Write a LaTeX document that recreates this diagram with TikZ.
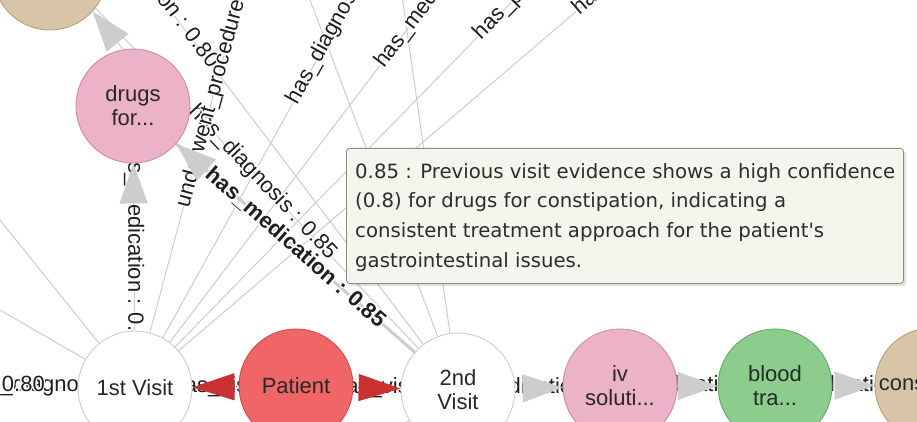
\documentclass[tikz,border=0pt]{standalone}
\usepackage{fontspec}
\setmainfont{Liberation Sans}
\newfontfamily\tipfnt{DejaVu Sans}
\usepackage{contour}
\contourlength{1.3pt}
\usetikzlibrary{arrows.meta,calc}
\pgfdeclarelayer{edgelayer}
\pgfsetlayers{edgelayer,main}
\definecolor{edgegray}{RGB}{205,205,205}
\definecolor{labtxt}{RGB}{30,30,30}
\definecolor{nodetxt}{RGB}{40,40,40}
\definecolor{pinkfill}{RGB}{235,178,200}
\definecolor{pinkline}{RGB}{205,140,168}
\definecolor{greenfill}{RGB}{140,205,142}
\definecolor{greenline}{RGB}{100,170,105}
\definecolor{tanfill}{RGB}{216,196,166}
\definecolor{tanline}{RGB}{185,160,125}
\definecolor{redfill}{RGB}{240,102,102}
\definecolor{redline}{RGB}{205,75,75}
\definecolor{redarrow}{RGB}{200,50,50}
\definecolor{whiteline}{RGB}{205,205,205}
\definecolor{tipfill}{RGB}{245,244,237}
\definecolor{tipline}{RGB}{140,140,128}
\definecolor{tiptxt}{RGB}{45,45,45}
\newcommand\mynodefont{\fontsize{22}{24}\selectfont}
\newcommand\mylabfont{\fontsize{22}{24}\selectfont}
\newcommand\cw[1]{\contour{white}{#1}}
\begin{document}
\begin{tikzpicture}[x=1pt,y=-1pt,
  nd/.style={circle, draw, line width=0.9pt, minimum size=114pt, inner sep=0pt, align=center, font=\mynodefont, text=nodetxt},
  edge/.style={draw=edgegray, line width=1pt},
  gtip/.style={-{Triangle[length=40pt,width=28pt]}},
  rtip/.style={draw=redarrow, line width=1pt, -{Triangle[length=42pt,width=27pt]}},
  redge/.style={draw=redarrow, line width=1pt},
  lab/.style={font=\mylabfont, text=labtxt, inner sep=0pt},
]
\useasboundingbox (0,0) rectangle (917,422);
\clip (0,0) rectangle (917,422);

% nodes
\node[nd, fill=tanfill, draw=tanline] (tanTL) at (50,-27) {};
\node[nd, fill=pinkfill, draw=pinkline] (drugs) at (133,106) {drugs\\for...};
\node[nd, fill=white, draw=whiteline] (v1) at (135,388) {1st Visit};
\node[nd, fill=redfill, draw=redline] (pat) at (296,386) {Patient};
\node[nd, fill=white, draw=whiteline] (v2) at (458,390) {2nd\\Visit};
\node[nd, fill=pinkfill, draw=pinkline] (iv) at (620,386) {iv\\soluti...};
\node[nd, fill=greenfill, draw=greenline] (blood) at (775,386) {blood\\tra...};
\node[nd, fill=tanfill, draw=tanline] (con) at (932,385) {constipat...};

% off-canvas ends
\coordinate (t1) at (-135,52);
\coordinate (t2) at (-135,232);
\coordinate (t3) at (316,-288);
\coordinate (t4) at (426,-137);
\coordinate (t5) at (498,-90);
\coordinate (t6) at (624,-113);
\coordinate (t7) at (743,-131);
\coordinate (l1) at (-300,386);
\coordinate (l2) at (-400,384);
\coordinate (u2) at (-24,-118);
\coordinate (u3) at (35,-168);
\coordinate (u4) at (236,-195);
\coordinate (u5) at (386,-117);
\coordinate (u6) at (330,470);
\coordinate (u7) at (360,480);

\begin{pgfonlayer}{edgelayer}
\fill[white] (0,0) rectangle (917,422);
% lines
\draw[edge] (v1) -- (t1);
\draw[edge] (v1) -- (t2);
\draw[edge] (v1) -- (t3);
\draw[edge] (v1) -- (t4);
\draw[edge] (v1) -- (t5);
\draw[edge] (v1) -- (t6);
\draw[edge] (v1) -- (t7);
\draw[edge] (v1) -- (l1);
\draw[edge] (v1) -- (l2);
\draw[edge] (v2) -- (u2);
\draw[edge] (v2) -- (u3);
\draw[edge] (v2) -- (u4);
\draw[edge] (v2) -- (u5);
\draw[edge] (v2) -- (u6);
\draw[edge] (v2) -- (u7);
\draw[edge] (v1) -- (drugs);
\draw[edge, gtip] (drugs.100) -- (tanTL.-42);
\draw[edge, line width=3pt] (v2) -- (drugs);
\draw[redge] (pat) -- (v1);
\draw[redge] (pat) -- (v2);
\draw[edge] (v2) -- (iv);
\draw[edge] (iv) -- (blood);
\draw[edge] (blood) -- (con);

% labels
\node[lab, rotate=-90] (lmedv) at (133.5,247) {\cw{has\_medication : 0.80}};
\node[lab, rotate=-41.15, font=\mylabfont\bfseries] (lbold) at (295.5,248) {\cw{has\_medication : 0.85}};
\node[lab, rotate=-46.5, anchor=east] (ldiag2) at (333,257) {\cw{has\_diagnosis : 0.85}};
\node[lab, rotate=-52.8, anchor=east] (lmed3) at (214,66) {\cw{has\_medication : 0.80}};
\node[lab, rotate=75, anchor=west] (lund) at (184,207) {\cw{underwent\_procedure : 0.80}};
\node[lab, rotate=61, anchor=west] (ldiag1) at (293,103) {\cw{has\_diagnosis : 0.80}};
\node[lab, rotate=52.8, anchor=west] (lmed1) at (380,66) {\cw{has\_medication : 0.80}};
\node[lab, rotate=45.7, anchor=west] (lt6) at (478,37) {\cw{has\_procedure : 0.80}};
\node[lab, rotate=40.5, anchor=west] (lt7) at (576,12) {\cw{has\_diagnosis : 0.80}};
\node[lab, anchor=west] (lleft2) at (-35,386) {\cw{has\_diagnosis : 0.80}};
\node[lab, anchor=east] (lleft1) at (45,386) {\cw{has\_diagnosis : 0.80}};
\node[lab] (lvis1) at (215.5,387) {\cw{has\_visit}};
\node[lab] (lvis2) at (377,388) {\cw{has\_visit}};
\node[lab] (lmed4) at (539,388) {\cw{has\_medication : 0.80}};
\node[lab] (lmed5) at (697.5,386) {\cw{has\_medication : 0.80}};
\node[lab] (lmed6) at (853,386) {\cw{has\_medication : 0.80}};

% arrowheads on top of the labels
\draw[edge, gtip] ($(drugs)!99pt!(v1)$) -- (drugs);
\draw[edge, gtip, line width=3pt] ($(drugs)!99pt!(v2)$) -- (drugs);
\draw[rtip] ($(v1)!99pt!(pat)$) -- (v1);
\draw[rtip] ($(v2)!98pt!(pat)$) -- (v2);
\draw[edge, gtip] ($(iv)!99pt!(v2)$) -- (iv);
\draw[edge, gtip] ($(blood)!99pt!(iv)$) -- (blood);
\draw[edge, gtip] ($(con)!99pt!(blood)$) -- (con);
\end{pgfonlayer}

% tooltip
\fill[black, opacity=0.12, rounded corners=3pt] (349,151) rectangle (906,286);
\node[draw=tipline, fill=tipfill, rounded corners=3pt, line width=0.8pt, minimum width=557pt, minimum height=135pt, anchor=north west, inner sep=0pt] (tipbox) at (346,148) {};
\node[anchor=north west, align=left, inner sep=0pt, font=\tipfnt\fontsize{19.7}{29.7}\selectfont, text=tiptxt] (tiptext) at (355,163)
  {0.85 : Previous visit evidence shows a high confidence\\
   (0.8) for drugs for constipation, indicating a\\
   consistent treatment approach for the patient{\char"27}s\\
   gastrointestinal issues.};
\end{tikzpicture}
\end{document}
